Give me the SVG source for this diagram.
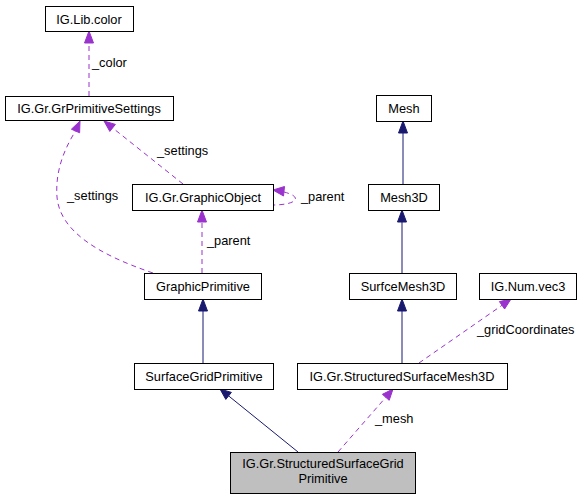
<svg xmlns="http://www.w3.org/2000/svg" width="581" height="499" viewBox="0 0 581 499">
<style>
rect.n{fill:#fff;stroke:#000;stroke-width:1}
rect.g{fill:#bfbfbf;stroke:#000;stroke-width:1}
text{font-family:"Liberation Sans",Arial,sans-serif;font-size:12.8px;fill:#000}
text.c{text-anchor:middle}
.inh{stroke:#191970;fill:none;stroke-width:1}
.ah{fill:#191970;stroke:#191970}
.use{stroke:#9a32cd;fill:none;stroke-width:1;stroke-dasharray:5,4}
.uh{fill:#9a32cd;stroke:#9a32cd}
</style>
<rect width="581" height="499" fill="#fff"/>
<g id="connectors">
<line class="use" x1="89" y1="96" x2="89" y2="43"/>
<polygon class="uh" points="89,31 84.5,43 93.5,43"/>
<text x="92" y="67">_color</text>
<line class="use" x1="183" y1="184" x2="112.6" y2="127.9"/>
<polygon class="uh" points="104,121 115.4,124.4 109.8,131.4"/>
<text x="157" y="155">_settings</text>
<path class="use" d="M153,273 C100,255 60,232 57,197 C55,170 65,148 75.5,131"/>
<polygon class="uh" points="80,121 79.6,132.8 71.4,129.2"/>
<text x="67" y="200">_settings</text>
<line class="use" x1="202" y1="273" x2="202" y2="222"/>
<polygon class="uh" points="202,210 197.5,222 206.5,222"/>
<text x="207" y="245">_parent</text>
<path class="use" d="M284,192 C292,194 297,197 295,200 C293,203 284,205 273,205"/>
<polygon class="uh" points="273,190 284.5,186.5 283.5,196"/>
<text x="301" y="201">_parent</text>
<line class="inh" x1="203" y1="363" x2="203" y2="311"/>
<polygon class="ah" points="203,299 198.5,311 207.5,311"/>
<line class="inh" x1="298" y1="452" x2="228.6" y2="395.9"/>
<polygon class="ah" points="220,389 231.4,392.4 225.8,399.4"/>
<line class="use" x1="338" y1="452" x2="385.8" y2="397.3"/>
<polygon class="uh" points="393,389 389.2,400.3 382.4,394.3"/>
<text x="375" y="423">_mesh</text>
<line class="inh" x1="403" y1="184" x2="403" y2="133"/>
<polygon class="ah" points="403,121 398.5,133 407.5,133"/>
<line class="inh" x1="402" y1="273" x2="402" y2="222"/>
<polygon class="ah" points="402,210 397.5,222 406.5,222"/>
<line class="inh" x1="402" y1="363" x2="402" y2="311"/>
<polygon class="ah" points="402,299 397.5,311 406.5,311"/>
<line class="use" x1="419" y1="363" x2="502" y2="305.3"/>
<polygon class="uh" points="511,299 504.6,309 499.4,301.6"/>
<text x="477" y="334">_gridCoordinates</text>
</g>
<g id="n-color"><rect class="n" x="45.5" y="6.5" width="88" height="25"/><text class="c" x="89" y="23.5">IG.Lib.color</text></g>
<g id="n-settings"><rect class="n" x="5.5" y="96.5" width="168" height="24"/><text class="c" x="89" y="113">IG.Gr.GrPrimitiveSettings</text></g>
<g id="n-graphicobject"><rect class="n" x="132.5" y="184.5" width="141" height="26"/><text class="c" x="203" y="202">IG.Gr.GraphicObject</text></g>
<g id="n-graphicprimitive"><rect class="n" x="144.5" y="273.5" width="117" height="26"/><text class="c" x="203" y="291">GraphicPrimitive</text></g>
<g id="n-surfacegridprimitive"><rect class="n" x="134.5" y="363.5" width="139" height="26"/><text class="c" x="204" y="381">SurfaceGridPrimitive</text></g>
<g id="n-main"><rect class="g" x="230.5" y="452.5" width="185" height="41"/><text class="c" x="323" y="468">IG.Gr.StructuredSurfaceGrid</text><text class="c" x="323" y="483">Primitive</text></g>
<g id="n-mesh"><rect class="n" x="376.5" y="95.5" width="55" height="26"/><text class="c" x="404" y="113">Mesh</text></g>
<g id="n-mesh3d"><rect class="n" x="368.5" y="184.5" width="71" height="26"/><text class="c" x="404" y="202">Mesh3D</text></g>
<g id="n-surfcemesh3d"><rect class="n" x="349.5" y="273.5" width="107" height="26"/><text class="c" x="403" y="291">SurfceMesh3D</text></g>
<g id="n-vec3"><rect class="n" x="479.5" y="273.5" width="97" height="26"/><text class="c" x="528" y="291">IG.Num.vec3</text></g>
<g id="n-ssmesh3d"><rect class="n" x="297.5" y="363.5" width="210" height="26"/><text class="c" x="402" y="381">IG.Gr.StructuredSurfaceMesh3D</text></g>
</svg>
